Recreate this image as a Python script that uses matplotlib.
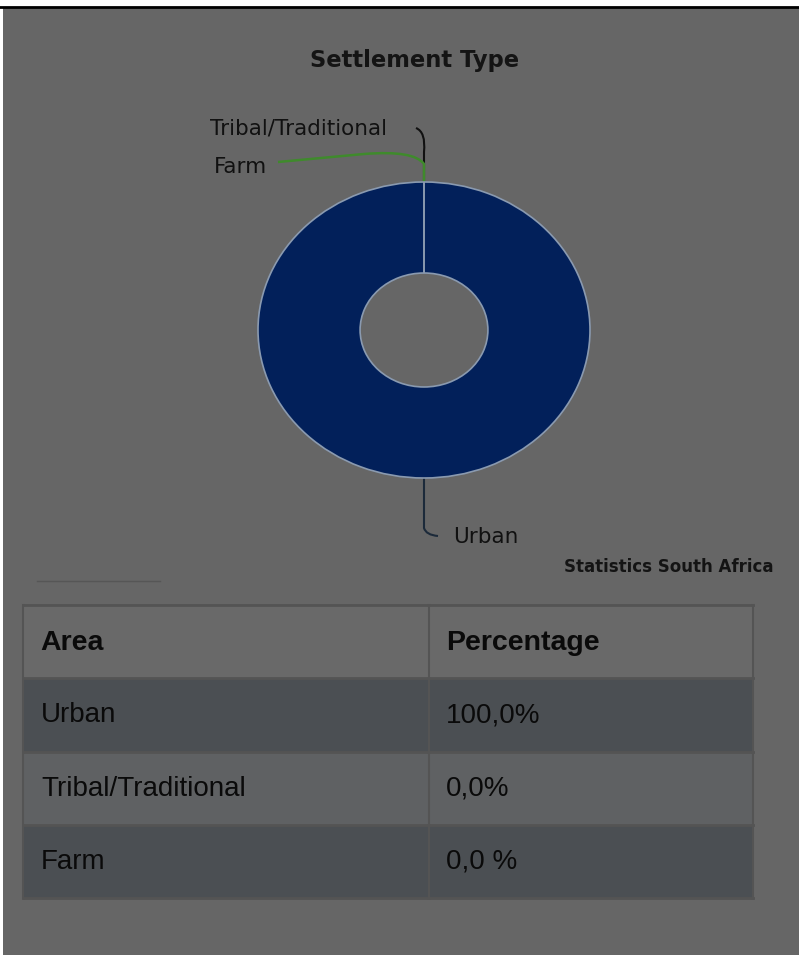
import numpy as np
import matplotlib
matplotlib.use("Agg")
import matplotlib.pyplot as plt
from matplotlib.patches import Rectangle
from matplotlib.path import Path
from matplotlib.patches import PathPatch

title = "Settlement Type"
source = "Statistics South Africa"
areas = ["Urban", "Tribal/Traditional", "Farm"]
shares = [100.0, 0.0, 0.0]
share_labels = ["100,0%", "0,0%", "0,0 %"]
header = ["Area", "Percentage"]

bg = "#666666"
navy = "#02205a"
leader_colors = {"Urban": "#1c2a3a", "Tribal/Traditional": "#111111", "Farm": "#3f8a2c"}

W, H = 799, 955
fig = plt.figure(figsize=(W / 100, H / 100), dpi=100)
fig.patch.set_facecolor("white")

# pixel-space canvas
ax = fig.add_axes([0, 0, 1, 1])
ax.set_xlim(0, W)
ax.set_ylim(H, 0)
ax.axis("off")

ax.add_patch(Rectangle((3, 8), W - 3, H - 8, facecolor=bg, edgecolor="none", zorder=0))
ax.plot([0, W], [7.5, 7.5], color="black", lw=2, zorder=1)

ax.text(415, 61, title, ha="center", va="center", fontsize=16.3,
        fontweight="bold", color="#141414", family="DejaVu Sans")

# donut, drawn in its own axes so it can be stretched into an ellipse
cx, cy, rx, ry = 424, 330, 166, 148
pie_ax = fig.add_axes([(cx - rx) / W, 1 - (cy + ry) / H, 2 * rx / W, 2 * ry / H])
wedges, _ = pie_ax.pie(shares, colors=[navy, navy, navy], startangle=90,
                       counterclock=False, radius=1.0,
                       wedgeprops=dict(width=0.615, edgecolor="#8a9ab0", linewidth=1.2))
pie_ax.set_aspect("auto")
pie_ax.set_xlim(-1, 1)
pie_ax.set_ylim(-1, 1)
pie_ax.axis("off")

# leader lines and labels from wedge mid-angles
total = sum(shares)
angle = 90.0
for name, val in zip(areas, shares):
    sweep = 360.0 * val / total
    mid = np.deg2rad(angle - sweep / 2)
    angle -= sweep
    px = cx + rx * np.cos(mid)
    py = cy - ry * np.sin(mid)
    col = leader_colors[name]
    if name == "Urban":
        verts = [(px, py), (px, py + 50), (px + 2, py + 57), (px + 14, py + 58)]
        ax.add_patch(PathPatch(Path(verts, [1, 2, 3, 3]), fill=False, ec=col, lw=1.5))
        ax.text(px + 29, py + 59, name, ha="left", va="center", fontsize=15.5,
                color="#111111", family="DejaVu Sans")
    elif name == "Tribal/Traditional":
        verts = [(px, py), (px, py - 30), (px + 2, py - 50), (px - 8, py - 54)]
        ax.add_patch(PathPatch(Path(verts, [1, 2, 3, 3]), fill=False, ec=col, lw=1.5))
        ax.text(px - 214, py - 54, name, ha="left", va="center", fontsize=15.5,
                color="#111111", family="DejaVu Sans")
    else:
        verts = [(px, py), (px, py - 18), (px - 10, py - 32), (px - 60, py - 28),
                 (px - 146, py - 20)]
        ax.add_patch(PathPatch(Path(verts, [1, 2, 3, 3, 2]), fill=False, ec=col, lw=1.8))
        ax.text(px - 210, py - 15, name, ha="left", va="center", fontsize=15.5,
                color="#111111", family="DejaVu Sans")

ax.text(773, 567, source, ha="right", va="center", fontsize=12,
        fontweight="bold", color="#141414", family="DejaVu Sans")
ax.plot([37, 160], [581, 581], color="#565656", lw=1)

# table
x0, x1, xm = 23, 753, 429
row_y = [605, 678, 752, 825, 898]
row_fill = ["#696969", "#4b4f53", "#5f6163", "#4b4f53"]
for i in range(4):
    ax.add_patch(Rectangle((x0, row_y[i]), x1 - x0, row_y[i + 1] - row_y[i],
                           facecolor=row_fill[i], edgecolor="none", zorder=1))
for y in row_y:
    ax.plot([x0, x1], [y, y], color="#545454", lw=2, zorder=2)
for x in (x0, xm, x1):
    ax.plot([x, x], [row_y[0], row_y[-1]], color="#545454", lw=1.5, zorder=2)

tfont = ["Liberation Sans", "DejaVu Sans"]
ax.text(40, (row_y[0] + row_y[1]) / 2 + 1, header[0], ha="left", va="center",
        fontsize=20.5, fontweight="bold", color="#0a0a0a", family=tfont, zorder=3)
ax.text(446, (row_y[0] + row_y[1]) / 2 + 1, header[1], ha="left", va="center",
        fontsize=20.5, fontweight="bold", color="#0a0a0a", family=tfont, zorder=3)
for i, (name, lab) in enumerate(zip(areas, share_labels)):
    yc = (row_y[i + 1] + row_y[i + 2]) / 2
    ax.text(41, yc, name, ha="left", va="center", fontsize=20,
            color="#0a0a0a", family=tfont, zorder=3)
    ax.text(446, yc, lab, ha="left", va="center", fontsize=20,
            color="#0a0a0a", family=tfont, zorder=3)

fig.savefig("out.png", dpi=100, facecolor=fig.get_facecolor())
